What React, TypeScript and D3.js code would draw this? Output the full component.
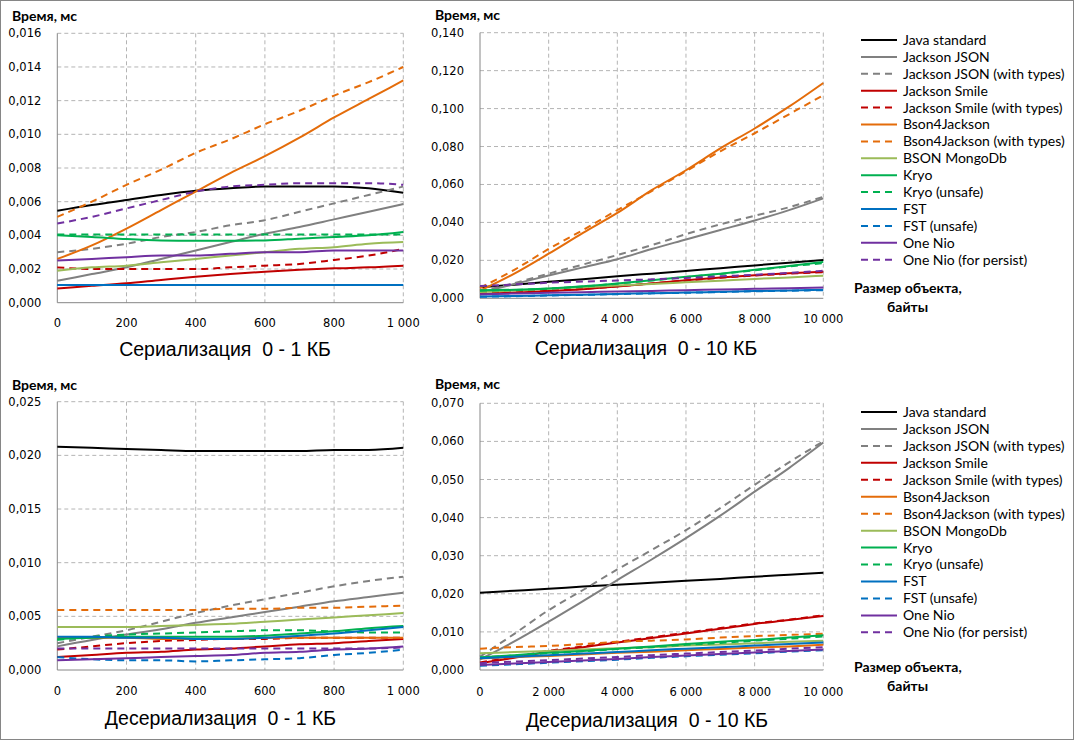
import React from "react";
import * as d3 from "d3";

const seriesNames = [
  "Java standard",
  "Jackson JSON",
  "Jackson JSON (with types)",
  "Jackson Smile",
  "Jackson Smile (with types)",
  "Bson4Jackson",
  "Bson4Jackson (with types)",
  "BSON MongoDb",
  "Kryo",
  "Kryo (unsafe)",
  "FST",
  "FST (unsafe)",
  "One Nio",
  "One Nio (for persist)",
];
const seriesColors = [
  "#000000", "#808080", "#808080", "#C00000", "#C00000", "#E46C0A", "#E46C0A",
  "#9BBB59", "#00B050", "#00B050", "#0070C0", "#0070C0", "#7030A0", "#7030A0",
];
const seriesDashed = [false, false, true, false, true, false, true, false, false, true, false, true, false, true];

const sizes1kb = [0, 100, 200, 300, 400, 500, 600, 700, 800, 900, 1000];
const sizes10kb = [0, 1000, 2000, 3000, 4000, 5000, 6000, 7000, 8000, 9000, 10000];

const xTicks1kb = [0, 200, 400, 600, 800, 1000];
const xTicks10kb = [0, 2000, 4000, 6000, 8000, 10000];
const yTicksSer1kb = [0, 0.002, 0.004, 0.006, 0.008, 0.01, 0.012, 0.014, 0.016];
const yTicksSer10kb = [0, 0.02, 0.04, 0.06, 0.08, 0.1, 0.12, 0.14];
const yTicksDeser1kb = [0, 0.005, 0.01, 0.015, 0.02, 0.025];
const yTicksDeser10kb = [0, 0.01, 0.02, 0.03, 0.04, 0.05, 0.06, 0.07];

// Serialization 0 - 1 KB (series in legend order)
const ser1kb = [
  [0.00546, 0.0058, 0.0061, 0.0064, 0.00665, 0.0068, 0.0069, 0.0069, 0.0069, 0.0068, 0.00653],
  [0.0013, 0.0017, 0.0021, 0.0026, 0.0031, 0.0036, 0.0041, 0.0045, 0.00495, 0.0054, 0.00586],
  [0.003, 0.0032, 0.0035, 0.0039, 0.0042, 0.0046, 0.0049, 0.0054, 0.0059, 0.0064, 0.0069],
  [0.00085, 0.001, 0.00115, 0.00135, 0.00154, 0.0017, 0.00184, 0.00195, 0.00204, 0.0021, 0.0022],
  [0.0021, 0.002, 0.002, 0.002, 0.002, 0.0021, 0.0022, 0.0023, 0.00254, 0.0028, 0.0032],
  [0.0026, 0.0034, 0.0044, 0.0055, 0.0066, 0.0077, 0.0087, 0.0098, 0.011, 0.0121, 0.0132],
  [0.0051, 0.006, 0.007, 0.0079, 0.0089, 0.0097, 0.0106, 0.0114, 0.0123, 0.0131, 0.014],
  [0.0019, 0.0021, 0.0022, 0.0024, 0.0026, 0.0028, 0.003, 0.0032, 0.0033, 0.0035, 0.0036],
  [0.004, 0.0039, 0.00378, 0.0037, 0.00368, 0.00368, 0.0037, 0.0038, 0.0039, 0.004, 0.0042],
  [0.00405, 0.00405, 0.00405, 0.00405, 0.00405, 0.00405, 0.00405, 0.00405, 0.00405, 0.00405, 0.00405],
  [0.00105, 0.00105, 0.00105, 0.00105, 0.00105, 0.00105, 0.00105, 0.00105, 0.00105, 0.00105, 0.00105],
  [0.00105, 0.00105, 0.00105, 0.00105, 0.00105, 0.00105, 0.00105, 0.00105, 0.00105, 0.00105, 0.00105],
  [0.0025, 0.0026, 0.0027, 0.0028, 0.0028, 0.0029, 0.003, 0.003, 0.0031, 0.0031, 0.0031],
  [0.0047, 0.0051, 0.0056, 0.0061, 0.0066, 0.0069, 0.007, 0.0071, 0.0071, 0.0071, 0.007],
];

// Serialization 0 - 10 KB
const ser10kb = [
  [0.0058, 0.0072, 0.0087, 0.0101, 0.0116, 0.013, 0.0144, 0.0159, 0.0173, 0.0188, 0.0202],
  [0.003, 0.0075, 0.012, 0.0163, 0.0206, 0.026, 0.031, 0.036, 0.041, 0.0465, 0.0527],
  [0.0035, 0.008, 0.013, 0.0178, 0.0228, 0.028, 0.0338, 0.039, 0.0435, 0.048, 0.0535],
  [0.0022, 0.003, 0.0038, 0.0048, 0.0062, 0.0078, 0.0095, 0.011, 0.0122, 0.0132, 0.014],
  [0.0025, 0.0032, 0.004, 0.005, 0.0063, 0.0078, 0.0094, 0.0108, 0.012, 0.013, 0.0138],
  [0.004, 0.013, 0.0235, 0.0345, 0.045, 0.057, 0.0675, 0.079, 0.0895, 0.101, 0.1135],
  [0.0055, 0.015, 0.026, 0.036, 0.0465, 0.0565, 0.067, 0.0775, 0.087, 0.097, 0.107],
  [0.0033, 0.0041, 0.005, 0.0058, 0.0067, 0.0075, 0.0084, 0.0093, 0.0102, 0.011, 0.0119],
  [0.0042, 0.0045, 0.0052, 0.0063, 0.0078, 0.0095, 0.0113, 0.013, 0.015, 0.017, 0.0192],
  [0.004, 0.0044, 0.0051, 0.0062, 0.0077, 0.0094, 0.0112, 0.0128, 0.0148, 0.0168, 0.0185],
  [0.0009, 0.0012, 0.0016, 0.0019, 0.0023, 0.0027, 0.003, 0.0034, 0.0038, 0.0041, 0.0045],
  [0.0008, 0.0011, 0.0015, 0.0018, 0.0022, 0.0026, 0.0029, 0.0033, 0.0037, 0.004, 0.0043],
  [0.0022, 0.0025, 0.0029, 0.0032, 0.0036, 0.0039, 0.0043, 0.0046, 0.005, 0.0053, 0.0057],
  [0.0065, 0.0073, 0.0082, 0.0088, 0.0094, 0.01, 0.0107, 0.0116, 0.0124, 0.0134, 0.0145],
];

// Deserialization 0 - 1 KB
const deser1kb = [
  [0.0208, 0.0207, 0.0206, 0.0205, 0.0204, 0.0204, 0.0204, 0.0204, 0.0205, 0.0205, 0.0207],
  [0.0022, 0.0028, 0.0033, 0.0038, 0.0044, 0.0049, 0.0054, 0.0059, 0.0064, 0.0068, 0.0072],
  [0.0025, 0.0031, 0.0037, 0.0045, 0.0053, 0.006, 0.0066, 0.0072, 0.0078, 0.0083, 0.0087],
  [0.0012, 0.0014, 0.0016, 0.0017, 0.0019, 0.002, 0.0022, 0.0024, 0.0025, 0.0027, 0.0029],
  [0.0019, 0.0022, 0.0025, 0.0027, 0.0028, 0.0029, 0.0029, 0.003, 0.003, 0.003, 0.003],
  [0.003, 0.003, 0.003, 0.0029, 0.0029, 0.0029, 0.003, 0.003, 0.003, 0.003, 0.003],
  [0.0056, 0.0056, 0.0056, 0.0056, 0.0056, 0.0057, 0.0057, 0.0058, 0.0058, 0.0059, 0.006],
  [0.004, 0.004, 0.004, 0.0041, 0.0042, 0.0043, 0.0045, 0.0047, 0.0049, 0.0051, 0.0053],
  [0.0029, 0.003, 0.0031, 0.0031, 0.0031, 0.0031, 0.0032, 0.0034, 0.0036, 0.0039, 0.0041],
  [0.0028, 0.0031, 0.0033, 0.0034, 0.0035, 0.0036, 0.0037, 0.0037, 0.0036, 0.0035, 0.0035],
  [0.0031, 0.0031, 0.003, 0.003, 0.0029, 0.0029, 0.003, 0.0032, 0.0034, 0.0037, 0.004],
  [0.0012, 0.001, 0.0009, 0.0009, 0.0008, 0.0009, 0.001, 0.0011, 0.0014, 0.0016, 0.0019],
  [0.0009, 0.001, 0.0011, 0.0012, 0.0013, 0.0014, 0.0016, 0.0017, 0.0019, 0.002, 0.0022],
  [0.002, 0.002, 0.002, 0.002, 0.002, 0.002, 0.002, 0.002, 0.002, 0.002, 0.0021],
];

// Deserialization 0 - 10 KB
const deser10kb = [
  [0.0203, 0.0208, 0.0213, 0.0219, 0.0224, 0.0229, 0.0234, 0.0239, 0.0245, 0.025, 0.0255],
  [0.0028, 0.0075, 0.0127, 0.0181, 0.0236, 0.029, 0.0346, 0.0405, 0.0468, 0.053, 0.0597],
  [0.0035, 0.0095, 0.0157, 0.021, 0.0264, 0.0315, 0.0367, 0.0425, 0.0486, 0.0545, 0.06],
  [0.0018, 0.0032, 0.0048, 0.006, 0.0072, 0.0084, 0.0096, 0.0108, 0.0121, 0.0131, 0.0142],
  [0.002, 0.0034, 0.005, 0.0062, 0.0074, 0.0086, 0.0098, 0.011, 0.0122, 0.0132, 0.0144],
  [0.003, 0.0034, 0.0037, 0.0041, 0.0045, 0.0048, 0.0052, 0.0055, 0.0059, 0.0062, 0.0066],
  [0.0056, 0.006, 0.0063, 0.0068, 0.0074, 0.0077, 0.008, 0.0085, 0.0089, 0.0092, 0.0095],
  [0.0044, 0.0047, 0.005, 0.0054, 0.0057, 0.006, 0.0064, 0.0067, 0.007, 0.0074, 0.0077],
  [0.0033, 0.0039, 0.0045, 0.005, 0.0056, 0.0062, 0.0068, 0.0074, 0.0079, 0.0085, 0.0091],
  [0.0033, 0.0038, 0.0044, 0.0049, 0.0055, 0.006, 0.0066, 0.0071, 0.0077, 0.0082, 0.0088],
  [0.0031, 0.0035, 0.0039, 0.0043, 0.0047, 0.0052, 0.0056, 0.006, 0.0064, 0.0068, 0.0072],
  [0.0011, 0.0015, 0.0019, 0.0023, 0.0027, 0.0032, 0.0036, 0.004, 0.0044, 0.0048, 0.0052],
  [0.0013, 0.0017, 0.0021, 0.0025, 0.0029, 0.0034, 0.0038, 0.0042, 0.0046, 0.005, 0.0054],
  [0.0018, 0.0022, 0.0026, 0.003, 0.0034, 0.0039, 0.0043, 0.0047, 0.0051, 0.0056, 0.006],
];

const panelTitles = [
  "Сериализация  0 - 1 КБ",
  "Сериализация  0 - 10 КБ",
  "Десериализация  0 - 1 КБ",
  "Десериализация  0 - 10 КБ",
];

const TICK_FONT = "'DejaVu Sans', Verdana, sans-serif";
const LABEL_FONT = "Lato, 'Open Sans', sans-serif";
const TITLE_FONT = "'Liberation Sans', Arial, sans-serif";

const fmtY = (v: number) => v.toFixed(3).replace(".", ",");
const fmtX = (v: number) => {
  const s = String(Math.round(v));
  return s.replace(/\B(?=(\d{3})+(?!\d))/g, " ");
};

type PanelProps = {
  x0: number; x1: number; y0: number; y1: number;
  sizes: number[]; data: number[][]; xTicks: number[]; yTicks: number[];
  title: string; titleX: number; titleY: number; labelX: number; labelY: number;
  xLabelY: number;
};

function Panel(p: PanelProps) {
  const xs = d3.scaleLinear().domain([p.xTicks[0], p.xTicks[p.xTicks.length - 1]]).range([p.x0, p.x1]);
  const ys = d3.scaleLinear().domain([p.yTicks[0], p.yTicks[p.yTicks.length - 1]]).range([p.y1, p.y0]);
  const line = d3
    .line<number>()
    .x((_, i) => xs(p.sizes[i]))
    .y((d) => ys(d))
    .curve(d3.curveMonotoneX);
  return (
    <g>
      {p.yTicks.slice(1).map((t) => (
        <line key={"gy" + t} x1={p.x0} x2={p.x1} y1={ys(t)} y2={ys(t)} stroke="#b4b4b4" strokeWidth={1} strokeDasharray="4,3" />
      ))}
      {p.xTicks.slice(1).map((t) => (
        <line key={"gx" + t} x1={xs(t)} x2={xs(t)} y1={p.y0} y2={p.y1} stroke="#b4b4b4" strokeWidth={1} strokeDasharray="4,3" />
      ))}
      <line x1={p.x0} x2={p.x0} y1={p.y0} y2={p.y1} stroke="#868686" strokeWidth={1} />
      <line x1={p.x0} x2={p.x1} y1={p.y1} y2={p.y1} stroke="#868686" strokeWidth={1} />
      {p.data.map((vals, i) => (
        <path
          key={"s" + i}
          d={line(vals) || ""}
          fill="none"
          stroke={seriesColors[i]}
          strokeWidth={2}
          strokeDasharray={seriesDashed[i] ? "7,5" : undefined}
        />
      ))}
      {p.yTicks.map((t) => (
        <text key={"ty" + t} x={p.x0 - 16} y={ys(t)} dy="0.35em" textAnchor="end" fontFamily={TICK_FONT} fontSize={11.5} fill="#000">
          {fmtY(t)}
        </text>
      ))}
      {p.xTicks.map((t) => (
        <text key={"tx" + t} x={xs(t)} y={p.xLabelY} dy="0.35em" textAnchor="middle" fontFamily={TICK_FONT} fontSize={11.5} fill="#000">
          {fmtX(t)}
        </text>
      ))}
      <text x={p.labelX} y={p.labelY} dy="0.35em" fontFamily={LABEL_FONT} fontWeight="bold" fontSize={14} fill="#000">
        Время, мс
      </text>
      <text x={p.titleX} y={p.titleY} dy="0.35em" textAnchor="middle" fontFamily={TITLE_FONT} fontSize={19.5} fill="#000" style={{ whiteSpace: "pre" }}>
        {p.title}
      </text>
    </g>
  );
}

function Legend({ top, step }: { top: number; step: number }) {
  return (
    <g>
      {seriesNames.map((name, i) => (
        <g key={name}>
          <line
            x1={861} x2={897} y1={top + i * step} y2={top + i * step}
            stroke={seriesColors[i]} strokeWidth={2}
            strokeDasharray={seriesDashed[i] ? "7,5" : undefined}
          />
          <text x={903} y={top + i * step} dy="0.35em" fontFamily={LABEL_FONT} fontSize={14} fill="#000">
            {name}
          </text>
        </g>
      ))}
    </g>
  );
}

function SizeLabel({ y }: { y: number }) {
  return (
    <g fontFamily={LABEL_FONT} fontWeight="bold" fontSize={14} fill="#000">
      <text x={854} y={y} dy="0.35em">Размер объекта,</text>
      <text x={887} y={y + 19} dy="0.35em">байты</text>
    </g>
  );
}

export default function App() {
  return (
    <div style={{ position: "absolute", left: 0, top: 0 }}>
      <svg width={1078} height={741} style={{ display: "block", background: "#fff" }}>
        <rect x={0.5} y={0.5} width={1073} height={739} fill="#fff" stroke="#868686" strokeWidth={1} />
        <Panel x0={57.3} x1={403.3} y0={33.3} y1={302.7} sizes={sizes1kb} data={ser1kb}
          xTicks={xTicks1kb} yTicks={yTicksSer1kb} title={panelTitles[0]} titleX={225} titleY={349}
          labelX={12} labelY={16} xLabelY={322.5} />
        <Panel x0={480} x1={823.3} y0={32.7} y1={298.3} sizes={sizes10kb} data={ser10kb}
          xTicks={xTicks10kb} yTicks={yTicksSer10kb} title={panelTitles[1]} titleX={646} titleY={348.5}
          labelX={435} labelY={15} xLabelY={318.5} />
        <Panel x0={57.3} x1={403.3} y0={401.7} y1={670} sizes={sizes1kb} data={deser1kb}
          xTicks={xTicks1kb} yTicks={yTicksDeser1kb} title={panelTitles[2]} titleX={220.5} titleY={718.5}
          labelX={12} labelY={385} xLabelY={690.5} />
        <Panel x0={480} x1={823.3} y0={403.3} y1={670} sizes={sizes10kb} data={deser10kb}
          xTicks={xTicks10kb} yTicks={yTicksDeser10kb} title={panelTitles[3]} titleX={647} titleY={720}
          labelX={435} labelY={384} xLabelY={692} />
        <Legend top={40} step={16.9} />
        <Legend top={412} step={16.95} />
        <SizeLabel y={288} />
        <SizeLabel y={667} />
      </svg>
    </div>
  );
}
